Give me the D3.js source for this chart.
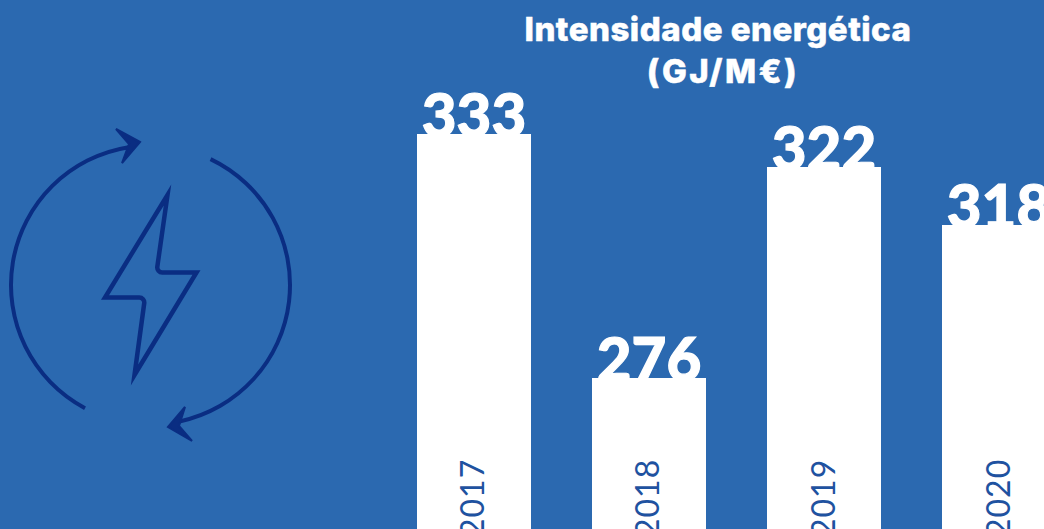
<!DOCTYPE html>
<html>
<head>
<meta charset="utf-8">
<script src="https://cdn.jsdelivr.net/npm/d3@7"></script>
<style>
html, body { margin: 0; padding: 0; background: #2b69b0; overflow: hidden; }
svg { display: block; }
</style>
</head>
<body>
<div id="bar_chart"></div>
<script>
var years = ["2017", "2018", "2019", "2020"];
var values = [333, 276, 322, 318];
var titleLines = ["Intensidade energética", "(GJ/M€)"];

function init(){
    var w = 1044;
    var h = 529;
    var svg = d3.select("#bar_chart").append("svg")
                .attr("width", w)
                .attr("height", h);

    var white = "#ffffff";
    var navy = "#0a2d82";
    var yearColor = "#1f52a0";

    // scales
    var xScale = d3.scaleBand()
                .domain(years)
                .range([417, 1056])
                .paddingInner(0.3486);

    // the bars in the source are not to scale, so the axis is piecewise
    var yScale = d3.scaleLinear()
                .domain([276, 318, 322, 333])
                .range([378, 225, 167, 134]);

    // bars
    svg.selectAll(".bar")
        .data(values)
        .enter()
        .append("rect")
        .attr("class", "bar")
        .attr("x", (d, i) => xScale(years[i]))
        .attr("y", d => yScale(d))
        .attr("width", xScale.bandwidth())
        .attr("height", d => h - yScale(d))
        .attr("fill", white);

    // value labels, they sink into the top of the bar
    svg.selectAll(".value")
        .data(values)
        .enter()
        .append("text")
        .attr("class", "value")
        .attr("x", (d, i) => xScale(years[i]) + xScale.bandwidth() / 2)
        .attr("y", d => yScale(d) + 3)
        .attr("text-anchor", "middle")
        .style("font-family", "Lato")
        .style("font-weight", 900)
        .style("font-size", "60px")
        .attr("fill", white)
        .attr("stroke", white)
        .attr("stroke-width", 1.2)
        .text(d => d);

    // year labels, rotated and cut off by the window
    svg.selectAll(".year")
        .data(years)
        .enter()
        .append("text")
        .attr("class", "year")
        .attr("transform", d => "translate(" + (xScale(d) + xScale.bandwidth() / 2 + 10.5) + ",537) rotate(-90)")
        .style("font-family", "Lato")
        .style("font-weight", 400)
        .style("font-size", "32px")
        .style("letter-spacing", "1px")
        .attr("fill", yearColor)
        .text(d => d);

    // title
    svg.selectAll(".title")
        .data(titleLines)
        .enter()
        .append("text")
        .attr("class", "title")
        .attr("x", (d, i) => i == 0 ? 718 : 723)
        .attr("y", (d, i) => 41 + i * 42)
        .attr("text-anchor", "middle")
        .style("font-family", "Inter")
        .style("font-weight", 800)
        .style("font-size", "33px")
        .style("letter-spacing", (d, i) => i == 0 ? "0.5px" : "2.5px")
        .attr("fill", white)
        .attr("stroke", white)
        .attr("stroke-width", 0.5)
        .text(d => d);

    // icon: two arcs with arrow heads and a bolt
    var icon = svg.append("g").attr("class", "icon");
    var ring = d3.arc().innerRadius(137.5).outerRadius(141.5);
    var deg = Math.PI / 180;
    [[25.5, 168], [208, 351]].forEach(a => {
        icon.append("path")
            .attr("transform", "translate(150.5,285)")
            .attr("d", ring({startAngle: a[0] * deg, endAngle: a[1] * deg}))
            .attr("fill", navy);
    });

    var line = d3.line();
    var heads = [
        [[140, 142], [116, 129], [129, 144], [122, 163]],
        [[168, 427], [185, 407], [179, 426], [192, 441]]
    ];
    heads.forEach(p => {
        icon.append("path")
            .attr("d", line(p) + "Z")
            .attr("fill", navy)
            .attr("stroke", navy)
            .attr("stroke-width", 2);
    });

    // bolt, inner corners are slightly rounded
    var bolt = d3.path();
    bolt.moveTo(167.5, 195);
    bolt.arcTo(156.5, 272.5, 196.5, 272.5, 5);
    bolt.lineTo(196.5, 272.5);
    bolt.lineTo(134.5, 375);
    bolt.arcTo(145, 297.5, 105, 297.5, 5);
    bolt.lineTo(105, 297.5);
    bolt.closePath();
    icon.append("path")
        .attr("d", bolt.toString())
        .attr("fill", "none")
        .attr("stroke", navy)
        .attr("stroke-width", 4.5)
        .attr("stroke-miterlimit", 10);
}
window.onload = init;
</script>
</body>
</html>
